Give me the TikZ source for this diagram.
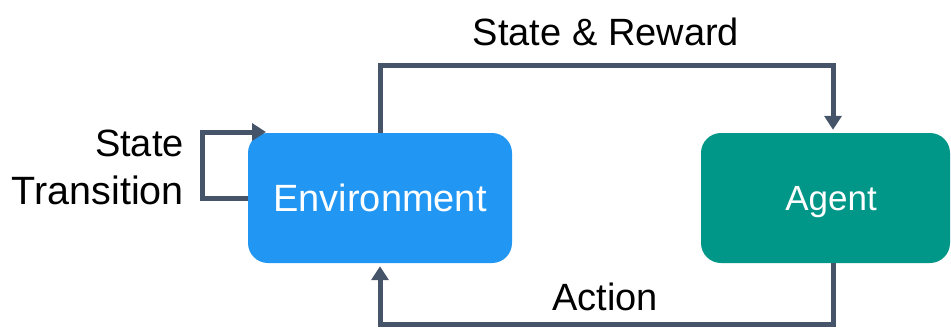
\documentclass[tikz,border=0pt]{standalone}
\usepackage{fontspec}
\setmainfont{Liberation Sans}
\usetikzlibrary{arrows.meta}
\definecolor{envblue}{HTML}{2196F3}
\definecolor{agentteal}{HTML}{009688}
\definecolor{flow}{HTML}{46546A}
\tikzset{
  box/.style={rectangle, rounded corners=20pt, inner sep=0pt, text=white, text depth=0pt},
  lbl/.style={inner sep=0pt, font=\fontsize{38}{48}\selectfont, text=black},
  conn/.style={draw=flow, line width=5pt, -{Triangle[width=17pt,length=14pt]}}
}
\begin{document}
\begin{tikzpicture}[x=1pt,y=-1pt]
\useasboundingbox (0,0) rectangle (951,327);
\node[box, fill=envblue, minimum width=264pt, minimum height=130pt,
  font=\fontsize{38}{42}\selectfont] (env) at (380,198) {Environment};
\node[box, fill=agentteal, minimum width=249pt, minimum height=130pt,
  font=\fontsize{35}{40}\selectfont] (agent) at (825.5,198) {\hspace*{11pt}Agent};
\coordinate (agtop) at ([xshift=7.5pt]agent.north);
\coordinate (agbot) at ([xshift=7.5pt]agent.south);
\coordinate (loopend) at (266,132);
\draw[conn, shorten >=3pt] (env.north) -- ++(0,-67) -| (agtop);
\draw[conn, shorten >=3pt] (agbot) -- ++(0,61) -| (env.south);
\draw[conn] (env.west) -- ++(-45,0) |- (loopend);
\node[lbl, anchor=base] (sr) at (606,45) {State \& Reward};
\node[lbl, anchor=base] (act) at (605,310) {Action};
\node[lbl, anchor=base east] (st) at (184,156) {State};
\node[lbl, anchor=base east, font=\fontsize{39.5}{48}\selectfont] (tr) at (184,204) {Transition};
\end{tikzpicture}
\end{document}
